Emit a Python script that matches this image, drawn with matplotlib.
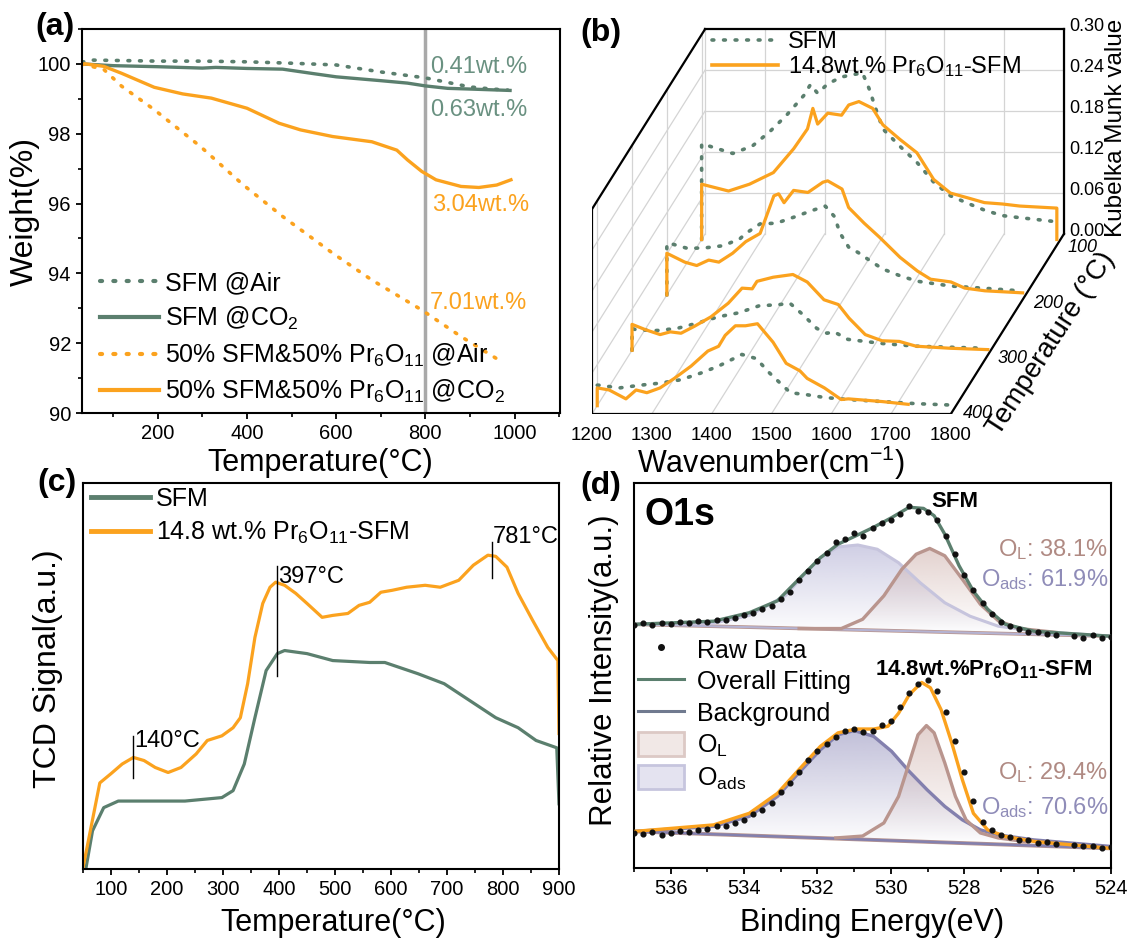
import numpy as np
import matplotlib
matplotlib.use('Agg')
import matplotlib.pyplot as plt
from matplotlib.lines import Line2D
from matplotlib.patches import Patch
from matplotlib.colors import LinearSegmentedColormap, to_rgb
from matplotlib.ticker import MultipleLocator

W, H = 1129, 938

plt.rcParams['font.family'] = 'Liberation Sans'
plt.rcParams['mathtext.fontset'] = 'custom'
plt.rcParams['mathtext.rm'] = 'Liberation Sans'
plt.rcParams['mathtext.it'] = 'Liberation Sans:italic'
plt.rcParams['mathtext.bf'] = 'Liberation Sans:bold'
plt.rcParams['mathtext.default'] = 'regular'

GREEN = '#5B7F6E'
ORANGE = '#FBA21E'
DOT = (0, (0.5, 2.7))

# ---------------- (a) TGA ----------------
a_temp_sfm_air = [30, 50, 100, 200, 300, 400, 500, 600, 700, 800, 850, 900, 950, 985]
a_sfm_air = [100.05, 100.11, 100.1, 100.08, 100.08, 100.06, 100.02, 99.97, 99.77, 99.6, 99.47, 99.34, 99.28, 99.25]
a_temp_sfm_co2 = [30, 100, 200, 300, 330, 400, 480, 550, 600, 700, 760, 800, 850, 900, 990]
a_sfm_co2 = [100.0, 99.95, 99.92, 99.88, 99.9, 99.87, 99.85, 99.72, 99.63, 99.52, 99.45, 99.37, 99.3, 99.28, 99.24]
a_temp_mix_air = [30, 79, 119, 192, 296, 392, 480, 592, 680, 792, 880, 976]
a_mix_air = [100.0, 99.84, 99.36, 98.69, 97.63, 96.53, 95.63, 94.58, 93.81, 92.95, 92.19, 91.43]
a_temp_mix_co2 = [38, 79, 119, 192, 256, 320, 400, 472, 520, 592, 680, 736, 760, 792, 824, 880, 920, 960, 992]
a_mix_co2 = [100.0, 99.93, 99.73, 99.33, 99.14, 99.02, 98.73, 98.3, 98.11, 97.92, 97.77, 97.53,
             97.25, 96.92, 96.68, 96.49, 96.46, 96.53, 96.68]

# ---------------- (b) DRIFTS ----------------
b_temps = [100, 200, 300, 400]
b_w_pr = {
    100: [1200, 1200, 1245, 1280, 1320, 1354, 1377, 1386, 1394, 1411, 1434, 1446, 1463, 1486, 1503,
          1531, 1560, 1588, 1616, 1645, 1673, 1703, 1732, 1794, 1794],
    200: [1200, 1200, 1230, 1250, 1270, 1287, 1310, 1332, 1356, 1379, 1387, 1396, 1412, 1436, 1461,
          1469, 1493, 1504, 1530, 1555, 1590, 1619, 1641, 1675, 1698, 1732, 1795],
    300: [1200, 1200, 1223, 1247, 1264, 1282, 1304, 1332, 1361, 1384, 1401, 1409, 1436, 1469, 1493,
          1521, 1545, 1563, 1590, 1618, 1647, 1675, 1732, 1795],
    400: [1200, 1200, 1220, 1248, 1265, 1283, 1305, 1329, 1357, 1385, 1403, 1414, 1431, 1448, 1468,
          1494, 1516, 1539, 1551, 1580, 1608, 1620, 1677, 1720],
}
b_km_pr = {
    100: [0, 0.081, 0.071, 0.081, 0.098, 0.133, 0.162, 0.192, 0.169, 0.185, 0.182, 0.197, 0.202, 0.192,
          0.168, 0.147, 0.127, 0.088, 0.068, 0.061, 0.054, 0.052, 0.049, 0.046, 0],
    200: [0, 0.061, 0.048, 0.043, 0.051, 0.048, 0.061, 0.078, 0.090, 0.145, 0.148, 0.135, 0.153, 0.150,
          0.165, 0.167, 0.155, 0.128, 0.105, 0.085, 0.055, 0.035, 0.023, 0.019, 0.010, 0.006, 0.003],
    300: [0, 0.038, 0.030, 0.023, 0.027, 0.025, 0.035, 0.049, 0.069, 0.091, 0.090, 0.101, 0.107, 0.111,
          0.100, 0.074, 0.067, 0.047, 0.023, 0.014, 0.013, 0.006, 0.003, 0.001],
    400: [0, 0.026, 0.023, 0.010, 0.023, 0.019, 0.026, 0.040, 0.058, 0.080, 0.087, 0.103, 0.117, 0.117,
          0.120, 0.093, 0.062, 0.051, 0.040, 0.026, 0.009, 0.010, 0.006, 0.002],
}
b_w_sfm = {
    100: [1200, 1200, 1212, 1252, 1285, 1314, 1342, 1371, 1382, 1394, 1411, 1434, 1451, 1469, 1480,
          1491, 1503, 1531, 1560, 1588, 1616, 1645, 1673, 1703, 1732, 1794],
    200: [1200, 1200, 1207, 1235, 1265, 1294, 1322, 1332, 1356, 1383, 1413, 1441, 1465, 1480, 1490,
          1504, 1520, 1540, 1561, 1590, 1619, 1675, 1743, 1790],
    300: [1200, 1200, 1207, 1242, 1275, 1310, 1344, 1379, 1412, 1447, 1464, 1486, 1509, 1526, 1538,
          1561, 1618, 1675, 1789],
    400: [1200, 1203, 1237, 1272, 1305, 1340, 1374, 1403, 1426, 1442, 1466, 1488, 1506, 1523, 1551,
          1580, 1620, 1677, 1733, 1790],
}
b_km_sfm = {
    100: [0, 0.140, 0.137, 0.126, 0.137, 0.158, 0.182, 0.211, 0.227, 0.214, 0.228, 0.238, 0.241, 0.244,
          0.221, 0.192, 0.162, 0.137, 0.113, 0.084, 0.064, 0.053, 0.043, 0.035, 0.032, 0.026],
    200: [0, 0.075, 0.075, 0.068, 0.069, 0.072, 0.082, 0.090, 0.104, 0.105, 0.114, 0.123, 0.130, 0.115,
          0.090, 0.070, 0.062, 0.050, 0.038, 0.028, 0.020, 0.013, 0.009, 0.006],
    300: [0, 0.032, 0.030, 0.029, 0.032, 0.040, 0.049, 0.055, 0.065, 0.067, 0.069, 0.052, 0.032, 0.025,
          0.027, 0.016, 0.010, 0.006, 0.003],
    400: [0.030, 0.030, 0.026, 0.030, 0.033, 0.038, 0.048, 0.058, 0.068, 0.075, 0.069, 0.048, 0.033,
          0.019, 0.016, 0.012, 0.009, 0.006, 0.003, 0.001],
}

# ---------------- (c) H2-TPR ----------------
c_temp_pr = [50, 80, 100, 120, 140, 159, 179, 202, 225, 252, 272, 298, 318, 331, 344, 357, 371, 384, 394,
             410, 430, 450, 477, 496, 523, 543, 562, 582, 602, 628, 661, 688, 721, 747, 773, 787, 807,
             827, 853, 880, 898, 900]
c_tcd_pr = [0.003, 0.223, 0.247, 0.272, 0.289, 0.281, 0.263, 0.250, 0.263, 0.298, 0.333, 0.345, 0.366,
            0.392, 0.480, 0.600, 0.688, 0.730, 0.743, 0.735, 0.714, 0.688, 0.652, 0.657, 0.662, 0.683,
            0.691, 0.717, 0.722, 0.730, 0.735, 0.730, 0.748, 0.787, 0.813, 0.810, 0.782, 0.714, 0.644,
            0.574, 0.540, 0.351]
c_temp_sfm = [55, 67, 87, 113, 166, 232, 298, 318, 338, 357, 377, 397, 410, 450, 496, 562, 589, 648, 695,
              741, 787, 827, 859, 896, 900]
c_tcd_sfm = [0.0, 0.099, 0.159, 0.176, 0.176, 0.176, 0.185, 0.203, 0.272, 0.392, 0.514, 0.558, 0.566,
             0.558, 0.540, 0.535, 0.535, 0.506, 0.480, 0.436, 0.392, 0.366, 0.333, 0.314, 0.169]
c_peaks = [140, 397, 781]
c_peak_lines = [(0.236, 0.345), (0.499, 0.784), (0.753, 0.848)]

# ---------------- (d) XPS O1s ----------------
d_base_ev = [537.0, 524.0]
d_base_top = [0.633, 0.602]
d_base_bot = [0.095, 0.051]

d_ads_top_ev = [537.0, 534.83, 533.86, 532.88, 532.41, 531.92, 531.44, 530.90, 530.37, 529.79, 529.20,
                528.53, 527.84, 527.07, 526.10, 524.0]
d_ads_top = [0.633, 0.636, 0.656, 0.707, 0.757, 0.806, 0.834, 0.839, 0.828, 0.793, 0.741, 0.689, 0.654,
             0.628, 0.615, 0.602]
d_ol_top_ev = [532.5, 531.35, 530.77, 530.19, 529.70, 529.31, 528.94, 528.53, 528.05, 527.56, 527.07,
               526.49, 525.5]
d_ol_top = [0.622, 0.622, 0.646, 0.707, 0.776, 0.815, 0.830, 0.811, 0.750, 0.685, 0.642, 0.622, 0.612]
d_fit_top_ev = [537.0, 534.83, 533.86, 533.09, 532.51, 531.92, 531.44, 530.95, 530.47, 529.98, 529.50,
                529.11, 528.82, 528.53, 528.14, 527.75, 527.36, 526.88, 526.10, 524.0]
d_fit_top = [0.633, 0.641, 0.663, 0.694, 0.750, 0.806, 0.841, 0.863, 0.885, 0.910, 0.937, 0.934, 0.915,
             0.867, 0.785, 0.719, 0.672, 0.633, 0.615, 0.602]
d_raw_ev = [537.0, 536.75, 536.5, 536.25, 536.0, 535.75, 535.5, 535.25, 535.0, 534.75, 534.5, 534.25,
            534.0, 533.75, 533.5, 533.25, 533.0, 532.75, 532.5, 532.25, 532.0, 531.75, 531.5, 531.25,
            531.0, 530.75, 530.5, 530.25, 530.0, 529.75, 529.5, 529.25, 529.0, 528.75, 528.5, 528.25,
            528.0, 527.75, 527.5, 527.25, 527.0, 526.75, 526.5, 526.25, 526.0, 525.75, 525.5, 525.0,
            524.75, 524.5, 524.25, 524.0]
d_raw_top = [0.631, 0.636, 0.632, 0.637, 0.633, 0.638, 0.636, 0.641, 0.638, 0.645, 0.643, 0.650, 0.657,
             0.662, 0.672, 0.680, 0.700, 0.718, 0.748, 0.772, 0.797, 0.818, 0.848, 0.855, 0.870, 0.862,
             0.884, 0.895, 0.903, 0.920, 0.940, 0.928, 0.924, 0.905, 0.862, 0.815, 0.760, 0.722, 0.688,
             0.660, 0.640, 0.628, 0.622, 0.614, 0.612, 0.608, 0.606, 0.603, 0.598, 0.604, 0.597, 0.600]
d_raw_bot = [0.092, 0.088, 0.094, 0.086, 0.090, 0.096, 0.093, 0.100, 0.102, 0.110, 0.108, 0.118, 0.125,
             0.140, 0.150, 0.170, 0.198, 0.222, 0.250, 0.280, 0.305, 0.322, 0.340, 0.355, 0.362, 0.352,
             0.356, 0.372, 0.382, 0.418, 0.455, 0.478, 0.488, 0.460, 0.405, 0.330, 0.250, 0.175, 0.120,
             0.098, 0.085, 0.080, 0.072, 0.074, 0.066, 0.068, 0.062, 0.060, 0.056, 0.058, 0.052, 0.054]
d_ads_bot_ev = [537.0, 534.83, 533.86, 533.09, 532.51, 531.92, 531.44, 531.0, 530.47, 529.98, 529.50,
                529.01, 528.53, 528.05, 527.56, 527.07, 526.10, 524.0]
d_ads_bot = [0.095, 0.108, 0.134, 0.186, 0.247, 0.307, 0.346, 0.357, 0.342, 0.303, 0.251, 0.203, 0.160,
             0.125, 0.099, 0.086, 0.073, 0.056]
d_ol_bot_ev = [531.5, 530.77, 530.19, 529.79, 529.50, 529.26, 529.03, 528.82, 528.53, 528.24, 527.95,
               527.56, 527.07, 526.3]
d_ol_bot = [0.078, 0.083, 0.117, 0.186, 0.273, 0.346, 0.370, 0.351, 0.273, 0.186, 0.125, 0.091, 0.078,
            0.068]
d_fit_bot_ev = [537.0, 534.83, 533.86, 533.09, 532.51, 531.92, 531.44, 530.95, 530.47, 530.08, 529.79,
                529.50, 529.16, 528.92, 528.63, 528.34, 528.05, 527.75, 527.36, 526.88, 526.10, 524.0]
d_fit_bot = [0.095, 0.112, 0.142, 0.194, 0.255, 0.316, 0.351, 0.361, 0.361, 0.368, 0.402, 0.450, 0.482,
             0.468, 0.411, 0.325, 0.229, 0.142, 0.099, 0.082, 0.069, 0.051]

fig = plt.figure(figsize=(W / 100, H / 100), dpi=100)


def add_ax(l, t, r, b):
    return fig.add_axes([l / W, 1 - b / H, (r - l) / W, (b - t) / H])


def style(ax):
    for s in ax.spines.values():
        s.set_linewidth(1.5)
    ax.tick_params(which='major', direction='out', length=4.5, width=1.3, labelsize=14.5,
                   top=False, right=False)
    ax.tick_params(which='minor', direction='out', length=2.6, width=1.2, top=False, right=False)


# ---- panel a
ax = add_ax(82, 29, 560, 413)
ax.axvline(800, color='#A9A9A9', lw=2.5, zorder=0)
ax.plot(a_temp_sfm_air, a_sfm_air, color=GREEN, ls=DOT, lw=2.6, dash_capstyle='round', label='SFM @Air')
ax.plot(a_temp_sfm_co2, a_sfm_co2, color=GREEN, lw=2.4, label='SFM @CO$_2$')
ax.plot(a_temp_mix_air, a_mix_air, color=ORANGE, ls=DOT, lw=2.6, dash_capstyle='round',
        label='50% SFM&50% Pr$_6$O$_{11}$ @Air')
ax.plot(a_temp_mix_co2, a_mix_co2, color=ORANGE, lw=2.4, label='50% SFM&50% Pr$_6$O$_{11}$ @CO$_2$')
ax.set_xlim(30, 1102)
ax.set_ylim(90, 101)
ax.xaxis.set_major_locator(MultipleLocator(200))
ax.xaxis.set_minor_locator(MultipleLocator(100))
ax.yaxis.set_major_locator(MultipleLocator(2))
ax.yaxis.set_minor_locator(MultipleLocator(1))
style(ax)
ax.text(811, 99.91, '0.41wt.%', color='#6A9181', fontsize=17, va='center')
ax.text(811, 98.68, '0.63wt.%', color='#6A9181', fontsize=17, va='center')
ax.text(816, 95.96, '3.04wt.%', color=ORANGE, fontsize=17, va='center')
ax.text(809, 93.15, '7.01wt.%', color=ORANGE, fontsize=17, va='center')
lega = ax.legend(loc='lower left', bbox_to_anchor=(0.038, 0.02), frameon=False, fontsize=18,
                 handlelength=2.35, handletextpad=0.25, labelspacing=0.38, borderpad=0, borderaxespad=0)
for h in lega.legend_handles:
    h.set_linewidth(3.0)
ax.set_xlabel('Temperature(°C)', fontsize=22, va='center')
ax.xaxis.set_label_coords(0.498, -0.13)
ax.set_ylabel('Weight(%)', fontsize=23, va='center')
ax.yaxis.set_label_coords(-0.119, 0.526)

# ---- panel b (oblique waterfall)
axb = add_ax(592, 20, 1070, 414)
axb.set_xlim(1200, 1200 + 478 / 0.598)
axb.set_ylim(0, 394 / 683)
axb.axis('off')
KX, KY = 0.582, 0.000811
TF, TB = 415, 90


def P(w, T, z):
    T = np.asarray(T, float)
    return np.asarray(w, float) + (TF - T) * KX + 0 * T, np.asarray(z, float) + (TF - T) * KY + 0 * T


gc = '#D4D4D4'
for w in range(1200, 1801, 100):
    axb.plot(*P([w, w], TB, [0, 0.30]), color=gc, lw=0.9, zorder=0)
    axb.plot(*P(w, [TF, TB], [0, 0]), color=gc, lw=0.9, zorder=0)
for z in [0.06, 0.12, 0.18, 0.24]:
    axb.plot(*P([1200, 1800], TB, [z, z]), color=gc, lw=0.9, zorder=0)
    axb.plot(*P(1200, [TF, TB], [z, z]), color=gc, lw=0.9, zorder=0)
for T in b_temps:
    axb.plot(*P([1200, 1200], T, [0, 0.30]), color=gc, lw=0.9, zorder=0)

fk = dict(color='k', lw=1.6, zorder=1, solid_capstyle='projecting')
axb.plot(*P([1200, 1800], TF, [0, 0]), **fk)
axb.plot(*P([1200, 1200], TF, [0, 0.30]), **fk)
axb.plot(*P(1200, [TF, TB], [0.30, 0.30]), **fk)
axb.plot(*P([1200, 1800], TB, [0.30, 0.30]), **fk)
axb.plot(*P([1800, 1800], TB, [0, 0.30]), **fk)
axb.plot(*P(1800, [TF, TB], [0, 0]), **fk)

for T in b_temps:
    axb.plot(*P(b_w_sfm[T], T, b_km_sfm[T]), color=GREEN, ls=DOT, lw=2.6, dash_capstyle='round', zorder=2)
    axb.plot(*P(b_w_pr[T], T, b_km_pr[T]), color=ORANGE, lw=2.3, zorder=3)

for w in range(1200, 1801, 100):
    x, y = P(w, TF, 0)
    axb.text(x, y - 0.031, str(w), fontsize=13.5, ha='center', va='center')
for z in [0.0, 0.06, 0.12, 0.18, 0.24, 0.30]:
    x, y = P(1800, TB, z)
    axb.text(x + 9, y + 0.004, '%.2f' % z, fontsize=13, ha='left', va='center')
for T in b_temps:
    x, y = P(1800, T, 0)
    axb.text(x + 12, y - 0.012, str(T), fontsize=13, ha='left', va='center', style='italic')
axb.text(2076, 0.419, 'Kubelka Munk value', fontsize=17.5, rotation=90, ha='center', va='center')
axb.text(1968, 0.1025, 'Temperature (°C)', fontsize=20, rotation=57, ha='center', va='center',
         rotation_mode='anchor')
axb.text(1499, -0.0717, 'Wavenumber(cm$^{-1}$)', fontsize=22, ha='center', va='center')
hb = [Line2D([], [], color=GREEN, ls=DOT, lw=2.6, dash_capstyle='round'),
      Line2D([], [], color=ORANGE, lw=2.6)]
axb.legend(hb, ['SFM', '14.8wt.% Pr$_6$O$_{11}$-SFM'], loc='upper left',
           bbox_to_anchor=((712 - 592) / 478, (414 - 31) / 394), frameon=False, fontsize=17,
           handlelength=2.8, handletextpad=0.4, borderpad=0, borderaxespad=0, labelspacing=0.05)

# ---- panel c
axc = add_ax(83, 483, 559, 869)
axc.plot(c_temp_sfm, c_tcd_sfm, color=GREEN, lw=2.3, label='SFM')
axc.plot(c_temp_pr, c_tcd_pr, color=ORANGE, lw=2.3, label='14.8 wt.% Pr$_6$O$_{11}$-SFM')
for t, (y0, y1) in zip(c_peaks, c_peak_lines):
    axc.plot([t, t], [y0, y1], color='k', lw=1)
axc.text(141, 0.332, '140°C', fontsize=17, va='center')
axc.text(398, 0.756, '397°C', fontsize=17, va='center')
axc.text(782, 0.860, '781°C', fontsize=17, va='center')
axc.set_xlim(50, 900)
axc.set_ylim(0, 1)
axc.set_yticks([])
axc.xaxis.set_major_locator(MultipleLocator(100))
axc.xaxis.set_minor_locator(MultipleLocator(50))
style(axc)
legc = axc.legend(loc='upper left', bbox_to_anchor=(0.017, 0.99), frameon=False, fontsize=18,
                  handlelength=2.35, handletextpad=0.25, labelspacing=0.35, borderpad=0, borderaxespad=0)
for h in legc.legend_handles:
    h.set_linewidth(3.5)
axc.set_xlabel('Temperature(°C)', fontsize=22, va='center')
axc.xaxis.set_label_coords(0.525, -0.14)
axc.set_ylabel('TCD Signal(a.u.)', fontsize=23, va='center')
axc.yaxis.set_label_coords(-0.0735, 0.52)

# ---- panel d
axd = add_ax(634, 483, 1111, 868)
OL_C, ADS_C = '#B9958E', '#8380AE'


def grad_fill(ax, x, y, color, amax):
    poly = ax.fill(x, y, facecolor='none', edgecolor='none')[0]
    cmap = LinearSegmentedColormap.from_list('g', [(*to_rgb(color), 0.0), (*to_rgb(color), amax)])
    im = ax.imshow(np.linspace(0, 1, 100).reshape(-1, 1), cmap=cmap, aspect='auto', origin='lower',
                   extent=[min(x), max(x), min(y), max(y)], zorder=1, interpolation='bilinear')
    im.set_clip_path(poly)


grad_fill(axd, d_ads_top_ev, d_ads_top, '#A9A7CF', 0.55)
grad_fill(axd, d_ol_top_ev, d_ol_top, '#C7A49E', 0.5)
grad_fill(axd, d_ads_bot_ev, d_ads_bot, '#8F8CBA', 0.55)
grad_fill(axd, d_ol_bot_ev, d_ol_bot, '#C7A49E', 0.5)

axd.plot(d_base_ev, d_base_top, color=OL_C, lw=2.6, zorder=2)
axd.plot(d_base_ev, d_base_top, color='#B5B3D2', lw=1.5, zorder=2)
axd.plot(d_base_ev, d_base_bot, color=OL_C, lw=2.8, zorder=2)
axd.plot(d_base_ev, d_base_bot, color=ADS_C, lw=1.8, zorder=2)
axd.plot(d_ads_top_ev, d_ads_top, color='#C6C4DD', lw=2.2, zorder=2)
axd.plot(d_ol_top_ev, d_ol_top, color=OL_C, lw=2.4, zorder=2)
axd.plot(d_ads_bot_ev, d_ads_bot, color=ADS_C, lw=2.4, zorder=2)
axd.plot(d_ol_bot_ev, d_ol_bot, color=OL_C, lw=2.4, zorder=2)
axd.plot(d_fit_top_ev, d_fit_top, color=GREEN, lw=2.4, zorder=3)
axd.plot(d_fit_bot_ev, d_fit_bot, color=ORANGE, lw=2.4, zorder=3)
axd.plot(d_raw_ev, d_raw_top, 'o', color='#111111', ms=3.4, zorder=4)
axd.plot(d_raw_ev, d_raw_bot, 'o', color='#111111', ms=3.4, zorder=4)

axd.text(0.023, 0.917, 'O1s', transform=axd.transAxes, fontsize=27, fontweight='bold', va='center')
axd.text(0.673, 0.951, 'SFM', transform=axd.transAxes, fontsize=16, fontweight='bold',
         ha='center', va='center')
axd.text(0.732, 0.514, r'14.8wt.%Pr$_\mathbf{6}$O$_\mathbf{11}$-SFM', transform=axd.transAxes,
         fontsize=16, fontweight='bold', ha='center', va='center')
axd.text(0.994, 0.826, 'O$_L$: 38.1%', transform=axd.transAxes, fontsize=17, color='#B08A83',
         ha='right', va='center')
axd.text(0.994, 0.748, 'O$_{ads}$: 61.9%', transform=axd.transAxes, fontsize=17, color='#8F8CB8',
         ha='right', va='center')
axd.text(0.994, 0.247, 'O$_L$: 29.4%', transform=axd.transAxes, fontsize=17, color='#B08A83',
         ha='right', va='center')
axd.text(0.994, 0.158, 'O$_{ads}$: 70.6%', transform=axd.transAxes, fontsize=17, color='#8F8CB8',
         ha='right', va='center')

axd.set_xlim(537, 524)
axd.set_ylim(0, 1)
axd.set_yticks([])
axd.xaxis.set_major_locator(MultipleLocator(2))
axd.xaxis.set_minor_locator(MultipleLocator(1))
style(axd)
hd = [Line2D([], [], marker='o', ls='none', color='#111111', ms=4),
      Line2D([], [], color=GREEN, lw=2.2),
      Line2D([], [], color='#707A8F', lw=2.2),
      Patch(facecolor='#F1E8E6', edgecolor='#DCC9C5', lw=2),
      Patch(facecolor='#E4E3F0', edgecolor='#C6C5DE', lw=2)]
axd.legend(hd, ['Raw Data', 'Overall Fitting', 'Background', 'O$_L$', 'O$_{ads}$'], loc='upper left',
           bbox_to_anchor=(0.008, 0.6), frameon=False, fontsize=18, handlelength=1.85,
           handleheight=1.1, handletextpad=0.5, labelspacing=0.25, borderpad=0, borderaxespad=0)
axd.set_xlabel('Binding Energy(eV)', fontsize=22, va='center')
axd.xaxis.set_label_coords(0.50, -0.143)
axd.set_ylabel('Relative Intensity(a.u.)', fontsize=22.5, va='center')
axd.yaxis.set_label_coords(-0.063, 0.515)

# panel letters
for lab, x, y in [('(a)', 55, 27), ('(b)', 601, 33), ('(c)', 57, 483), ('(d)', 601, 486)]:
    fig.text(x / W, 1 - y / H, lab, fontsize=23, fontweight='bold', ha='center', va='center')

fig.savefig('out.png', dpi=100)
